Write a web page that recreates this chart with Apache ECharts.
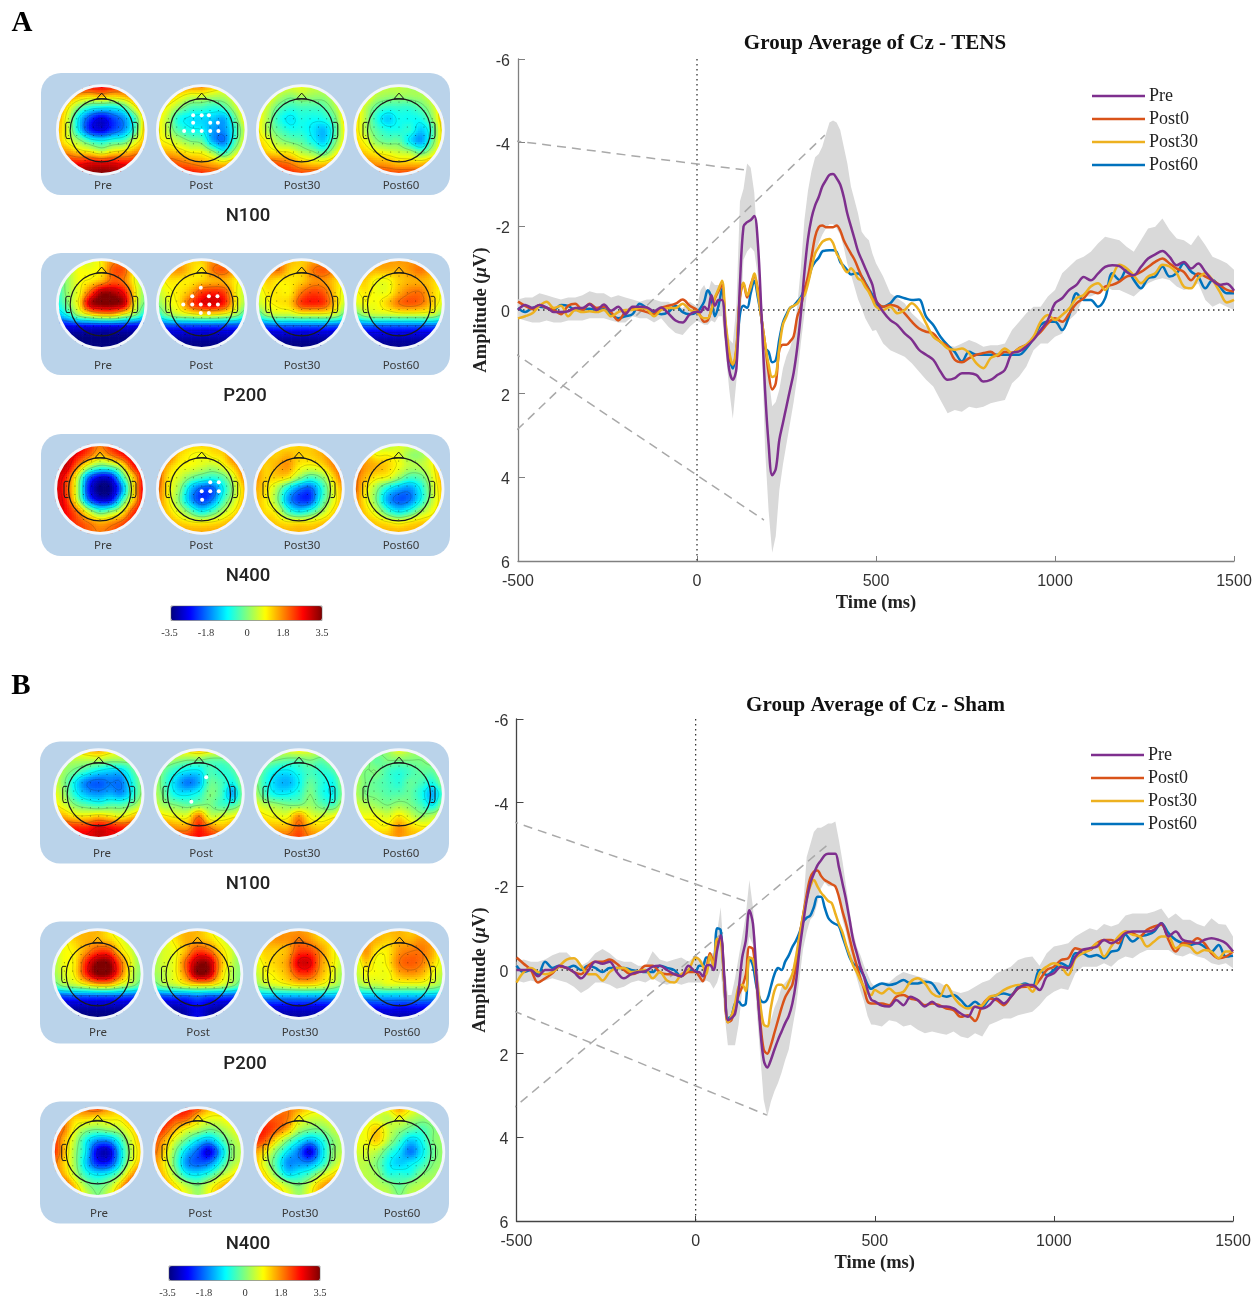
<!DOCTYPE html>
<html><head><meta charset="utf-8"><style>html,body{margin:0;padding:0;background:#fff}#c{width:1260px;height:1301px}</style>
<script src="https://cdn.jsdelivr.net/npm/echarts@6/dist/echarts.min.js"></script></head><body><div id="c"></div>
<script>
// ---------- ERP sampling times (ms) ----------
const timesBase=[-500,-480,-460,-440,-420,-400,-380,-360,-340,-320,-300,-280,-260,-240,-220,-200,-180,-160,-140,-120,-100,-80,-60,-40,-20];
const timesMid=[0,10,20,30,40,50,60,70,80,90,100,110,120,130,140,150,160,170,180,190,200,210,220,230,240,250,260,270,280,290,300,310,320,330,340,350,360,370,380,390,400,410,420,430,440,450,460,470,480,490];
const timesLate=[500,520,540,560,580,600,620,640,660,680,700,720,740,760,780,800,820,840,860,880,900,920,940,960,980,1000,1020,1040,1060,1080,1100,1120,1140,1160,1180,1200,1220,1240,1260,1280,1300,1320,1340,1360,1380,1400,1420,1440,1460,1480,1500];
const times=[...timesBase,...timesMid,...timesLate];
// ---------- Panel A: amplitude (uV) ----------
const tensPre=[0,-.12,-.05,-.12,-.06,.05,.05,.03,-.05,-.05,-.14,0,-.13,.02,-.08,.1,-.08,-.08,-.06,.03,-.06,.08,.25,.3,.1,
.04,.05,-.08,0,-.35,-.1,-.24,-.24,.6,1.43,1.67,1.4,-.63,-2,-2.1,-2.15,-2.25,-1.6,.08,1.9,3.2,3.95,3.8,3.1,2.7,2.3,1.9,1.5,.9,.1,-.9,-1.7,-2.2,-2.5,-2.7,-2.95,-3.1,-3.23,-3.25,-3.15,-3,-2.7,-2.3,-2,-1.7,-1.4,-1.2,-1,-.8,-.6,
-.24,.04,.24,.36,.56,.71,.95,1.07,1.19,1.47,1.67,1.63,1.51,1.51,1.55,1.71,1.67,1.55,1.43,1.03,.99,.87,.71,.48,.24,-.16,-.28,-.48,-.6,-.79,-.71,-.87,-1.03,-1.07,-1.05,-.91,-.83,-1.03,-1.23,-1.33,-1.41,-1.27,-1.07,-1.15,-.99,-1.11,-.91,-.71,-.6,-.63,-.46];
const tensPost0=[-.2,-.1,-.02,-.12,-.05,0,.1,-.1,-.15,0,-.15,-.05,-.08,.05,.25,.05,-.03,0,.05,.1,-.05,-.1,-.15,-.25,-.1,
0,.15,.28,.25,0,-.28,-.45,-.6,.55,1.15,1.3,.95,-.3,-.63,-.3,-.6,-.8,-.5,.2,.8,1.5,1.9,1.75,.95,.83,.83,.75,.63,.16,-.08,-.48,-.8,-1.27,-1.75,-1.98,-2.02,-1.98,-1.98,-1.98,-2.02,-1.9,-1.67,-1.5,-1.35,-1.2,-1,-.8,-.63,-.48,-.28,
-.2,-.08,-.12,-.08,.08,.28,.44,.52,.56,.76,.87,1.19,1.25,1.15,1.07,1.03,1,1.1,1,1.02,.91,.83,.67,.52,.32,.2,.28,.08,-.16,-.28,-.44,-.4,-.56,-.6,-.68,-.8,-.83,-.91,-1.03,-1.15,-1.23,-1.11,-.99,-.91,-.71,-.87,-.8,-.71,-.6,-.48,-.44];
const tensPost30=[.2,.15,.08,-.1,-.2,-.05,-.1,.15,0,.05,.03,.05,0,.15,.05,0,0,-.05,-.02,.15,0,-.05,-.05,-.15,0,
.05,.15,.2,.2,0,-.3,-.5,-.7,.3,1,1.3,.9,-.35,-.65,-.35,-.55,-.87,-.4,.2,.8,1.3,1.6,1.55,.9,.35,.15,-.05,-.1,-.15,-.28,-.35,-.63,-1,-1.35,-1.5,-1.63,-1.68,-1.7,-1.6,-1.35,-1.2,-1,-.9,-1,-.9,-.75,-.7,-.55,-.43,-.25,
-.08,0,-.08,.08,0,-.16,0,.32,.64,.76,.92,.95,.92,1.03,1.27,1.39,1.15,1.07,.92,1.03,.92,.83,.64,.28,.12,.24,.12,-.04,-.28,-.36,-.56,-.64,-.48,-.8,-1.08,-1,-.83,-.64,-.8,-.88,-1.08,-1.04,-.88,-.56,-.52,-.76,-.88,-.72,-.44,-.18,-.24];
const tensPost60=[-.05,.05,-.05,-.08,-.05,0,-.12,-.1,0,-.02,-.03,0,-.02,.1,.2,.15,.1,-.15,-.05,.05,.1,.05,-.1,.05,.1,
.05,-.05,-.2,-.47,-.3,.15,-.1,-.5,.4,1.1,1.4,1,.1,-.1,-.05,-.4,-.7,-.3,.2,.9,1,1.25,1.2,.7,.3,.1,-.05,-.1,-.2,-.3,-.5,-.7,-1,-1.15,-1.25,-1.4,-1.42,-1.43,-1.43,-1.39,-1.15,-1.05,-.95,-.85,-.87,-.87,-.8,-.65,-.5,-.35,
-.12,-.08,-.16,-.33,-.28,-.24,-.25,.16,.36,.64,.84,1,1.23,1,1.07,1.07,1.07,1.07,1.07,1.07,1.07,.92,.68,.36,.28,.28,.48,.12,-.4,-.24,-.24,-.08,-.28,-.88,-.72,-.96,-.72,-.52,-.76,-.8,-1.04,-.8,-.88,-1.12,-.92,-.8,-.52,-.72,-.56,-.4,-.4];
const tensBandUp=[-.25,-.3,-.3,-.4,-.35,-.3,-.25,-.3,-.3,-.35,-.45,-.4,-.4,-.3,-.35,-.3,-.25,-.2,-.25,-.25,-.2,-.2,-.1,-.05,-.2,
-.08,-.48,-.6,-.4,-.7,-.6,-.6,-.55,.16,.7,.8,-.1,-2.6,-2.9,-3.5,-3.4,-2.8,-1.4,-.3,.7,1.6,2.3,2.2,1.9,1.4,1.1,.9,.6,-.1,-1,-2.15,-2.85,-3.33,-3.65,-3.73,-3.9,-4.2,-4.48,-4.53,-4.48,-4.3,-3.9,-3.5,-2.95,-2.63,-2.3,-1.87,-1.75,-1.67,-1.35,
-1.12,-.8,-.4,-.28,-.16,.08,.24,.4,.56,.72,.84,.88,.8,.72,.78,.88,.84,.84,.8,.48,.28,.08,-.08,-.08,-.32,-.48,-.88,-1.04,-1.2,-1.27,-1.39,-1.59,-1.75,-1.71,-1.67,-1.51,-1.39,-1.67,-1.95,-1.99,-2.19,-1.91,-1.71,-1.67,-1.55,-1.79,-1.55,-1.27,-1.2,-1.12,-.96];
const tensBandLo=[.2,.25,.3,.3,.25,.3,.3,.25,.25,.25,.2,.2,.2,.25,.3,.3,.15,.2,.2,.3,.2,.4,.55,.6,.4,
.25,.3,.35,.35,.25,.3,.15,.15,1,1.9,2.6,1.7,.5,-1.2,-1.4,-1.5,-1.4,-.8,.5,3.3,4.8,5.8,5.4,4.3,3.7,3.2,2.7,2.2,1.6,.8,.1,-.6,-1,-1.4,-1.6,-1.8,-1.95,-2.05,-2.05,-1.95,-1.8,-1.5,-1.1,-.85,-.55,-.25,-.05,.2,.35,.5,
.48,.8,.96,1.04,1.12,1.27,1.47,1.67,1.83,2.15,2.47,2.39,2.43,2.31,2.35,2.31,2.23,2.19,2.15,1.75,1.59,1.35,.96,.8,.8,.64,.56,.24,.08,-.32,-.32,-.4,-.56,-.48,-.48,-.4,-.32,-.48,-.64,-.72,-.76,-.72,-.56,-.48,-.52,-.64,-.24,-.08,-.16,-.08,0];
// ---------- Panel B: amplitude (uV) ----------
const shamPre=[0,0,0,.15,0,0,-.1,-.05,.05,.2,.02,-.2,-.15,-.2,.05,.2,.1,.05,.03,-.08,-.1,0,.1,.15,-.1,
.04,.05,.15,-.1,-.12,0,-.48,-.83,.15,1.2,1.15,1.05,.48,-.3,-.7,-1.43,-1.1,.15,1.35,2.15,2.33,2.15,1.9,1.67,1.47,1.27,1.1,.8,.3,-.48,-1.1,-1.67,-2.07,-2.3,-2.5,-2.62,-2.74,-2.78,-2.78,-2.78,-2.46,-2.07,-1.67,-1.19,-.71,-.4,-.08,.16,.48,.71,
.75,.85,.87,.72,.84,.64,.72,.87,.76,.87,.87,.92,1.04,1.12,.88,.92,.84,.68,.8,.64,.44,.36,.36,.48,.16,.08,-.08,-.04,-.32,-.48,-.52,-.56,-.72,-.64,-.72,-.88,-.92,-.92,-.92,-.96,-1.12,-.8,-.92,-.72,-.68,-.64,-.72,-.76,-.72,-.64,-.44];
const shamPost0=[-.3,-.15,0,.3,.2,.08,-.08,-.05,.05,.1,-.1,-.2,-.2,-.25,-.15,0,.1,.05,-.1,-.1,.05,.1,.1,.15,.05,
.05,.15,.27,0,-.4,-.2,-.7,-.75,.3,1.25,1.2,.9,.6,.4,.1,-.55,-.5,.3,1.2,1.9,2,1.8,1.5,1.2,.9,.65,.5,.35,-.1,-.8,-1.3,-1.8,-2.2,-2.35,-2.38,-2.25,-2.15,-2.1,-2.05,-2,-1.75,-1.4,-1.1,-.75,-.4,-.1,.2,.45,.75,.8,
.8,.8,.84,.64,.6,.68,.72,.84,.8,.84,.92,.96,1.12,1.08,1.22,.84,.68,.72,.84,.64,.44,.4,.4,.24,0,-.08,-.24,-.28,-.52,-.48,-.48,-.64,-.72,-.72,-.64,-.92,-.88,-.8,-.96,-1.04,-1.08,-.72,-.44,-.64,-.64,-.76,-.64,-.4,-.28,-.32,-.44];
const shamPost30=[.3,.05,-.05,.05,.1,.05,-.1,-.25,-.28,-.1,.1,.1,.25,.05,-.05,-.05,.05,.03,0,.2,.05,.25,.3,.1,0,
-.3,-.25,-.1,.1,-.35,-.1,-.75,-.7,.3,1.25,1.1,.8,.4,.35,.5,-.3,-.25,.2,.8,1.3,1.35,.9,.5,.35,.35,.45,.3,.1,-.3,-.8,-1.3,-1.7,-2,-2.15,-2,-1.85,-1.75,-1.65,-1.6,-1.35,-1.1,-.9,-.6,-.35,-.1,.05,.25,.4,.55,.6,
.48,.56,.44,.56,.52,.28,.2,.32,.56,.64,.36,.64,.84,.92,.88,.84,.64,.6,.48,.4,.36,.36,.52,.08,-.08,-.16,-.08,.12,-.28,-.4,-.48,-.64,-.32,-.56,-.8,-.92,-.84,-.8,-.56,-.68,-.8,-.8,-.52,-.6,-.56,-.4,-.48,-.44,-.28,-.44,-.44];
const shamPost60=[-.1,.05,0,.1,-.2,-.05,-.1,-.05,-.1,0,-.1,-.05,.05,-.05,-.05,-.05,0,.03,.05,.05,-.1,-.05,0,.15,0,
.03,-.1,-.1,-.3,-.3,-.1,-1,-.95,.3,1.15,1.1,.8,.75,.85,.8,-.3,-.1,.4,.7,.77,.7,.4,.1,-.05,0,-.2,-.35,-.55,-.7,-.9,-1.15,-1.25,-1.3,-1.5,-1.75,-1.75,-1.5,-1.25,-1.15,-1.1,-1.05,-.8,-.55,-.3,-.15,-.1,0,.15,.35,.45,
.4,.32,.36,.32,.24,.32,.32,.28,.32,.56,.64,.6,.72,.88,.76,.88,.68,.6,.56,.6,.4,.32,.4,0,.12,0,-.16,-.08,-.4,-.4,-.32,-.36,-.28,-.44,-.48,-.84,-.68,-.8,-.84,-.92,-1.12,-.88,-.72,-.64,-.6,-.64,-.56,-.44,-.6,-.32,-.34];
const shamBandUp=[-.2,-.25,-.2,-.2,-.25,-.35,-.42,-.42,-.25,-.1,-.2,-.4,-.5,-.4,-.25,-.2,-.2,-.1,-.1,-.45,-.25,-.2,-.25,-.3,-.2,
-.35,-.3,-.2,-.25,-.4,-.4,-.9,-1.5,-.2,.6,.6,.2,-.3,-.8,-1.3,-2.15,-1.5,-.4,.5,1.3,1.4,1.2,.9,.7,.4,.3,.2,.05,-.5,-1,-1.5,-2.7,-3,-3.3,-3.4,-3.4,-3.45,-3.5,-3.5,-3.55,-3.1,-2.6,-2,-1.4,-.9,-.55,-.35,-.1,.1,.3,
.4,.3,.3,.15,.05,.1,.15,.2,.28,.3,.4,.5,.55,.5,.4,.3,.24,.08,0,-.08,-.24,-.3,-.32,-.1,-.4,-.56,-.6,-.64,-.8,-.9,-1,-.95,-1.1,-1.04,-1.1,-1.3,-1.35,-1.35,-1.35,-1.4,-1.47,-1.23,-1.35,-1.2,-1.2,-1.1,-1.04,-1.24,-1.1,-1.08,-.8];
const shamBandLo=[.25,.3,.25,.3,.25,.2,.25,.3,.4,.55,.45,.3,.3,.35,.45,.4,.3,.25,.3,.2,.3,.35,.3,.35,.3,
.3,.3,.3,.25,.3,.45,.3,0,1,1.8,1.8,1.8,1.3,.5,-.2,-.8,-.6,.9,2,3.1,3.5,3.15,2.9,2.7,2.45,2.15,1.9,1.4,.9,.2,-.5,-.9,-1.2,-1.3,-1.6,-1.95,-2.1,-2,-2,-2,-1.7,-1.2,-.9,-.5,-.1,.2,.5,.75,1.1,1.3,
1.31,1.35,1.2,1.24,1.35,1.31,1.43,1.51,1.47,1.51,1.55,1.47,1.59,1.63,1.51,1.59,1.31,1.24,1.16,1.16,1.08,1.04,1,.84,.64,.52,.44,.48,.08,-.08,-.08,-.08,-.16,-.08,-.24,-.32,-.28,-.4,-.48,-.48,-.48,-.48,-.36,-.32,-.4,-.32,-.28,-.16,-.12,-.16,-.04];
// ---------- Callout connectors, in axis units [ms, uV] ----------
const tensCallouts=[[[-682,-4.23],[131,-3.35]],[[-690,0],[187,5.02]],[[-684,4.35],[357,-4.18]]];
const shamCallouts=[[[-678,-4.04],[138,-1.65]],[[-664,.43],[199,3.47]],[[-681,4.54],[375,-3.04]]];
// ---------- Labels ----------
const seriesNames=['Pre','Post0','Post30','Post60'];
const mapLabels=['Pre','Post','Post30','Post60'];
const componentNames=['N100','P200','N400'];
const colorbarTicks=['-3.5','-1.8','0','1.8','3.5'];
// ---------- Scalp maps: 9x9 readings, tenths of uV, front at top ----------
const A_N100_Pre=[22,24,26,28,28,26,22,22,20,
18,18,14,12,14,12,14,18,20,
18,10,0,-6,-8,-8,-4,8,18,
16,6,-10,-22,-28,-22,-16,-4,14,
14,6,-10,-24,-28,-22,-16,-4,14,
14,8,2,-5,-8,-5,-3,6,14,
18,16,12,10,6,10,12,16,20,
26,26,26,28,28,28,26,26,26,
32,32,33,34,35,34,33,32,32];
const A_N100_Post=[18,18,18,18,18,14,10,10,10,
14,14,10,6,6,4,4,8,12,
12,8,2,-3,-4,-6,-4,4,12,
10,4,-7,-10,-11,-12,-14,-2,10,
10,4,-4,-8,-9,-15,-16,-6,6,
10,8,4,0,-2,-14,-18,-4,8,
14,14,12,9,8,2,-6,4,12,
20,22,20,18,16,14,12,16,20,
26,26,26,26,24,22,22,24,26];
const A_N100_Post30=[10,10,8,8,8,6,6,8,10,
10,10,4,1,3,2,2,6,12,
10,5,-2,-5,-4,-4,-3,3,12,
10,3,-6,-10,-7,-8,-7,-1,12,
10,3,-3,-7,-7,-10,-13,-4,10,
12,8,2,-1,-3,-8,-12,-1,10,
16,12,10,9,4,1,-3,6,14,
22,22,20,18,14,12,12,16,20,
28,28,26,24,22,22,22,22,22];
const A_N100_Post60=[12,10,6,5,5,3,3,8,12,
12,10,4,2,2,2,3,7,14,
12,5,-2,-5,-5,-5,-2,4,14,
12,4,-6,-12,-8,-8,-7,1,14,
12,4,-3,-7,-7,-6,-12,-4,12,
12,8,1,-2,-2,-10,-15,-2,12,
14,12,9,7,5,3,-2,5,14,
18,18,16,15,13,13,13,16,18,
24,24,24,22,22,22,22,22,22];
const A_P200_Pre=[0,4,6,6,10,16,16,6,2,
-2,3,8,8,10,20,20,8,2,
-4,2,8,10,14,20,18,8,0,
-6,2,8,20,32,32,26,10,0,
-8,0,10,30,35,35,30,8,-2,
-14,-8,2,8,12,12,6,0,-10,
-28,-27,-26,-26,-26,-26,-26,-27,-28,
-35,-35,-35,-35,-35,-35,-35,-35,-35,
-35,-35,-35,-35,-35,-35,-35,-35,-35];
const A_P200_Post=[8,12,14,12,12,16,14,10,6,
8,14,16,12,10,18,20,14,6,
6,10,10,10,12,14,14,10,6,
4,8,10,14,22,24,22,10,4,
0,6,10,20,26,28,24,10,2,
-8,0,4,6,8,8,6,2,-6,
-23,-22,-22,-22,-22,-22,-22,-22,-23,
-32,-32,-32,-32,-32,-32,-32,-32,-32,
-35,-35,-35,-35,-35,-35,-35,-35,-35];
const A_P200_Post30=[10,14,16,14,12,14,14,12,8,
8,16,18,12,12,18,20,16,8,
8,12,10,10,12,16,16,12,8,
6,10,10,10,18,22,20,12,6,
4,8,10,12,22,24,22,12,4,
-6,2,4,4,6,6,6,4,-4,
-22,-21,-20,-20,-20,-20,-20,-21,-22,
-32,-32,-32,-32,-32,-32,-32,-32,-32,
-35,-35,-35,-35,-35,-35,-35,-35,-35];
const A_P200_Post60=[12,14,16,16,16,16,16,14,10,
10,14,14,14,14,16,18,14,10,
10,12,8,8,12,14,14,12,8,
8,10,8,8,14,18,18,12,8,
6,8,8,12,18,20,18,12,6,
-4,2,4,4,5,5,5,4,-2,
-21,-20,-20,-20,-20,-20,-20,-20,-21,
-31,-31,-31,-31,-31,-31,-31,-31,-31,
-34,-34,-34,-34,-34,-34,-34,-34,-34];
const A_N400_Pre=[30,30,28,24,18,24,28,30,32,
30,30,26,20,13,18,24,30,32,
30,30,18,5,-2,0,8,24,30,
30,24,6,-18,-28,-26,-6,12,28,
30,22,4,-24,-35,-33,-16,10,28,
30,24,6,-18,-28,-26,-6,12,28,
28,26,18,5,-4,0,8,22,28,
26,26,22,18,14,16,20,26,28,
26,26,24,20,18,20,24,26,28];
const A_N400_Post=[16,16,14,12,12,12,14,16,18,
20,20,12,9,8,10,12,20,22,
22,14,9,8,6,4,8,14,22,
22,11,6,0,-4,-6,-2,8,18,
20,10,2,-12,-20,-20,-8,4,14,
18,10,0,-14,-22,-17,-4,6,14,
16,12,6,-2,-9,-4,4,10,16,
16,15,12,10,9,10,12,15,16,
16,16,16,15,15,15,16,16,16];
const A_N400_Post30=[14,14,12,10,12,12,14,16,18,
16,14,12,14,12,12,14,18,20,
18,12,14,16,10,8,10,16,22,
18,12,12,10,2,-4,0,10,20,
15,11,4,-8,-17,-20,-8,6,15,
14,10,2,-14,-22,-22,-6,6,14,
14,11,8,-4,-10,-6,2,10,14,
15,14,12,10,10,10,12,14,15,
15,15,15,14,14,14,15,15,15];
const A_N400_Post60=[8,6,5,3,6,6,4,8,12,
14,14,9,9,7,2,2,8,14,
22,16,14,12,8,4,4,8,16,
20,14,10,8,2,-4,-2,6,15,
20,11,2,-8,-14,-16,-8,4,13,
18,10,0,-14,-20,-18,-8,4,12,
18,12,6,-4,-10,-6,2,8,12,
16,14,12,10,8,10,12,12,12,
14,14,14,14,14,14,14,14,12];
const B_N100_Pre=[6,8,10,14,16,12,8,4,4,
4,4,4,4,4,2,2,2,4,
6,2,-2,-6,-10,-12,-12,-4,2,
6,0,-10,-18,-20,-18,-18,-8,2,
8,2,-8,-14,-16,-14,-16,-8,2,
10,6,0,-3,-5,-3,-3,0,6,
16,14,10,10,12,10,8,12,16,
24,24,24,24,28,26,24,24,24,
28,28,28,28,30,28,28,28,28];
const B_N100_Post=[6,8,10,12,14,12,10,6,6,
4,4,2,0,0,-2,-2,0,4,
4,-2,-7,-10,-10,-4,-6,-4,2,
4,-4,-12,-18,-14,-2,-4,-8,2,
4,-2,-9,-10,-7,0,-4,-14,0,
6,2,0,-2,0,0,-4,-4,2,
12,10,8,8,18,6,6,8,12,
18,18,16,16,24,18,14,16,18,
24,24,24,24,26,24,22,22,22];
const B_N100_Post30=[6,6,6,8,10,8,6,4,4,
2,2,0,-2,-2,0,-2,2,4,
2,-4,-9,-10,-7,-4,-6,-4,2,
2,-6,-12,-14,-9,-2,-6,-8,2,
4,-4,-9,-9,-6,0,-6,-9,0,
8,4,2,0,0,2,-2,-4,4,
12,10,8,8,16,8,6,8,12,
14,14,14,14,20,14,12,14,16,
20,20,20,20,22,18,16,16,16];
const B_N100_Post60=[4,4,2,2,8,4,2,2,4,
4,2,-2,0,0,0,0,2,4,
4,0,0,-4,-6,-4,-2,-2,4,
4,0,-2,-4,-6,-2,-4,-7,2,
4,0,-1,-3,-3,-2,-7,-14,-4,
6,4,2,0,2,0,-4,-9,2,
8,8,8,6,10,6,2,4,8,
12,12,10,10,16,12,10,10,12,
14,14,14,14,16,14,14,14,14];
const B_P200_Pre=[6,10,14,14,14,10,6,4,2,
4,8,12,14,14,12,8,4,0,
4,8,10,16,22,22,12,6,0,
2,8,10,24,34,34,20,8,0,
2,6,10,24,35,34,20,6,0,
-4,2,4,8,12,12,6,2,-4,
-22,-21,-20,-20,-20,-20,-20,-21,-22,
-33,-32,-32,-32,-32,-32,-32,-32,-33,
-35,-35,-35,-35,-35,-35,-35,-35,-35];
const B_P200_Post=[4,8,12,14,14,10,6,4,2,
2,6,10,14,14,12,8,4,0,
2,6,8,14,22,20,12,6,0,
2,6,8,20,32,32,16,6,0,
2,4,8,18,34,32,14,4,0,
-4,2,4,8,10,10,6,2,-4,
-22,-21,-20,-20,-18,-20,-20,-21,-22,
-32,-32,-32,-30,-27,-30,-32,-32,-32,
-35,-35,-34,-32,-28,-32,-34,-35,-35];
const B_P200_Post30=[8,14,16,16,16,14,10,8,6,
8,14,16,16,18,16,12,10,6,
8,12,12,14,22,22,16,10,6,
6,10,12,16,28,28,16,10,4,
4,8,10,14,22,22,14,8,2,
0,4,6,8,10,10,8,4,0,
-15,-14,-14,-14,-14,-14,-14,-14,-15,
-28,-28,-28,-28,-28,-28,-28,-28,-28,
-33,-33,-33,-33,-33,-33,-33,-33,-33];
const B_P200_Post60=[6,10,12,14,14,12,12,8,6,
6,14,14,12,14,14,16,14,8,
6,16,10,10,16,18,18,14,6,
4,12,8,10,18,20,18,12,6,
4,8,8,8,14,16,14,8,4,
0,4,4,6,6,6,6,4,0,
-14,-14,-13,-13,-13,-13,-13,-14,-14,
-26,-26,-26,-25,-26,-26,-26,-26,-26,
-32,-32,-32,-32,-32,-32,-32,-32,-32];
const B_N400_Pre=[18,18,18,20,22,16,12,10,10,
20,18,12,12,10,10,10,14,14,
22,18,8,2,0,2,4,10,14,
24,14,4,-8,-16,-16,-6,6,14,
24,14,2,-10,-28,-30,-12,4,12,
20,12,2,-12,-24,-24,-10,6,14,
20,14,4,-6,-10,-8,0,14,22,
22,22,12,2,-2,2,12,24,26,
22,22,16,6,0,6,16,24,24];
const B_N400_Post=[20,24,26,26,22,14,12,10,8,
26,26,22,20,12,8,8,10,10,
26,22,14,8,4,0,2,6,9,
22,15,6,-2,-10,-14,-6,2,6,
20,12,0,-12,-20,-28,-14,0,4,
17,10,-2,-16,-20,-18,-8,2,6,
16,12,2,-8,-10,-6,2,8,14,
16,16,10,4,0,6,12,16,16,
16,16,12,8,2,8,14,16,16];
const B_N400_Post30=[12,16,16,18,16,12,10,8,8,
18,20,20,18,10,6,6,8,8,
24,24,20,14,4,0,0,4,6,
24,20,10,0,-8,-14,-8,0,4,
16,10,0,-10,-18,-28,-12,0,4,
14,6,-4,-16,-16,-16,-8,2,8,
14,10,0,-10,-8,-4,4,10,14,
14,14,10,4,0,6,14,18,18,
14,14,12,8,2,8,14,18,16];
const B_N400_Post60=[6,6,8,10,16,10,6,4,4,
4,6,6,4,8,4,2,2,2,
6,8,12,6,2,-2,-4,0,2,
8,8,12,4,-4,-12,-8,0,2,
6,6,4,-4,-10,-18,-10,-2,2,
4,4,0,-8,-12,-10,-6,0,2,
4,4,2,-6,-6,-6,0,2,4,
6,4,4,2,-2,2,4,4,6,
6,6,4,4,0,4,4,6,6];
// significant electrodes (white dots), head-normalised
const sigA_N100_Post=[[-.19,-.33],[0,-.33],[.16,-.33],[-.19,-.16],[.19,-.16],[.36,-.16],[-.39,.02],[-.19,.02],[0,.02],[.19,.02],[.37,.02]];
const sigA_P200_Post=[[-.02,-.36],[-.21,-.17],[.16,-.17],[.35,-.17],[-.41,.01],[-.21,.01],[-.02,.01],[.17,.01],[.36,.01],[-.02,.2],[.16,.2]];
const sigA_N400_Post=[[.19,-.15],[.38,-.15],[0,.05],[.19,.05],[.38,.05],[.01,.24]];
const sigB_N100_Post=[[.16,-.37],[-.17,.17]];

// ---------- Layout ----------
const COL={Pre:'#7E2F8E',Post0:'#D95319',Post30:'#EDB120',Post60:'#0072BD'};
const JET=['#00007f','#0000ff','#007fff','#00ffff','#7fff7f','#ffff00','#ff7f00','#ff0000','#7f0000'];
const SERIF='"Liberation Serif"',SANS='"Liberation Sans"',UI='"Noto Sans"',DIN='Roboto';
const PANEL='#BAD3EA';
const layout=[
 {panel:[41,73,409,122],cy:130,xs:[101.7,201.7,301.7,399],lab:[103,201,302,401],laby:186,nameX:248,nameY:216,maps:[A_N100_Pre,A_N100_Post,A_N100_Post30,A_N100_Post60],sig:{1:sigA_N100_Post}},
 {panel:[41,253,409,122],cy:304,xs:[101.7,201.7,301.7,399],lab:[103,201,302,401],laby:366,nameX:245,nameY:396,maps:[A_P200_Pre,A_P200_Post,A_P200_Post30,A_P200_Post60],sig:{1:sigA_P200_Post}},
 {panel:[41,434,409,122],cy:489,xs:[100,201.7,299,398.7],lab:[103,201,302,401],laby:546,nameX:248,nameY:576,maps:[A_N400_Pre,A_N400_Post,A_N400_Post30,A_N400_Post60],sig:{1:sigA_N400_Post}},
 {panel:[40,741.5,409,122],cy:794,xs:[98.7,199,299,399],lab:[102,201,302,401],laby:854,nameX:248,nameY:884,maps:[B_N100_Pre,B_N100_Post,B_N100_Post30,B_N100_Post60],sig:{1:sigB_N100_Post}},
 {panel:[40,921.5,409,122],cy:974,xs:[97.7,197.5,299,399.5],lab:[98,198,300,402],laby:1033,nameX:245,nameY:1064,maps:[B_P200_Pre,B_P200_Post,B_P200_Post30,B_P200_Post60],sig:{}},
 {panel:[40,1101.5,409,122],cy:1152,xs:[97.7,198,299,399.5],lab:[99,200,300,402],laby:1214,nameX:248,nameY:1244,maps:[B_N400_Pre,B_N400_Post,B_N400_Post30,B_N400_Post60],sig:{}}
];
[tensPre,tensPost0,tensPost30,tensPost60,tensBandUp,tensBandLo,shamPre,shamPost0,shamPost30,shamPost60,shamBandUp,shamBandLo].forEach((a,i)=>{if(a.length!==times.length)throw new Error('length mismatch '+i+' '+a.length+' vs '+times.length)});

const grids=[],xAxes=[],yAxes=[],series=[],graphic=[];
function chartAxes(g,axisCol){
 grids.push(g);const idx=grids.length-1;
 xAxes.push({gridIndex:idx,type:'value',min:-500,max:1500,interval:500,name:'Time (ms)',nameLocation:'middle',nameGap:33,nameMoveOverlap:false,
  nameTextStyle:{fontFamily:SERIF,fontWeight:'bold',fontSize:18.5,color:'#222'},
  axisLine:{onZero:false,lineStyle:{color:axisCol,width:1.3}},axisTick:{inside:true,length:5,lineStyle:{color:axisCol}},
  axisLabel:{fontFamily:SANS,fontSize:16,color:'#333',margin:13,showMinLabel:true,showMaxLabel:true,formatter:v=>String(v)},splitLine:{show:false}});
 yAxes.push({gridIndex:idx,type:'value',inverse:true,min:-6,max:6,interval:2,name:'Amplitude ({mu|\u00b5}V)',nameLocation:'middle',nameGap:27,nameRotate:90,nameMoveOverlap:false,
  nameTextStyle:{fontFamily:SERIF,fontWeight:'bold',fontSize:18.5,color:'#222',rich:{mu:{fontFamily:SERIF,fontStyle:'italic',fontWeight:'bold',fontSize:18.5,color:'#222'}}},
  axisLine:{onZero:false,lineStyle:{color:axisCol,width:1.3}},axisTick:{inside:true,length:7,lineStyle:{color:axisCol}},
  axisLabel:{margin:8,formatter:v=>'{t|'+v+'}',rich:{t:{fontFamily:SANS,fontSize:16,color:'#333',padding:[5,0,0,0]}}},splitLine:{show:false}});
 return idx;
}
function erp(idx,vals,up,lo,callouts){
 const opts={xAxisIndex:idx,yAxisIndex:idx,silent:true,animation:false};
 series.push({...opts,type:'custom',name:'band',z:1,clip:false,data:[[0,0]],encode:{x:0,y:1},renderItem(p,api){
   const pts=[];times.forEach((t,i)=>pts.push(api.coord([t,up[i]])));
   for(let i=times.length-1;i>=0;i--)pts.push(api.coord([times[i],lo[i]]));
   return {type:'polygon',shape:{points:pts},style:{fill:'#d9d9d9'}};}});
 const dotted=(d,c)=>series.push({...opts,type:'line',name:'ref',z:2,symbol:'none',data:d,lineStyle:{color:c,width:1.3,type:[1.5,3.5]},legendHoverLink:false});
 dotted([[-500,0],[1500,0]],'#333');dotted([[0,-6],[0,6]],'#333');
 callouts.forEach(c=>series.push({...opts,type:'line',name:'callout',z:3,clip:false,symbol:'none',data:c,lineStyle:{color:'#a9a9a9',width:1.5,type:[9,6]}}));
 const order=[['Post60',3.2],['Post30',3.6],['Post0',3.4],['Pre',4]];
 seriesNames.forEach((n,k)=>{const z=order.find(o=>o[0]===n)[1];
  series.push({...opts,type:'line',name:n,z,symbol:'none',smooth:.35,data:times.map((t,i)=>[t,vals[k][i]]),lineStyle:{color:COL[n],width:2.5},itemStyle:{color:COL[n]}});});
}
const idxA=chartAxes({left:518,top:59,width:716,height:502},'#808080');
const idxB=chartAxes({left:516.5,top:719,width:716.5,height:502},'#444');
erp(idxA,[tensPre,tensPost0,tensPost30,tensPost60],tensBandUp,tensBandLo,tensCallouts);
erp(idxB,[shamPre,shamPost0,shamPost30,shamPost60],shamBandUp,shamBandLo,shamCallouts);

// scalp maps: each reading paints its own square, shaded from the surrounding readings
const R=45,LEVELS=[-27,-18,-9,0,9,18,27],SUB=5;
const electrodes=[];for(let y=-.62;y<.8;y+=.185){for(let x=-.74;x<.76;x+=.185){if(x*x+y*y<.62)electrodes.push([x,y]);}}
const cr=(p0,p1,p2,p3,t)=>p1+.5*t*(p2-p0+t*(2*p0-5*p1+4*p2-p3+t*(3*(p1-p2)+p3-p0)));
function field(m,x,y){ // x,y in head units -> tenths of uV
 const gx=(x+1)/.25,gy=(y+1)/.25,ix=Math.max(0,Math.min(7,Math.floor(gx))),iy=Math.max(0,Math.min(7,Math.floor(gy))),tx=gx-ix,ty=gy-iy;
 const at=(r,c)=>m[Math.max(0,Math.min(8,r))*9+Math.max(0,Math.min(8,c))];
 const row=r=>cr(at(r,ix-1),at(r,ix),at(r,ix+1),at(r,ix+2),tx);
 return cr(row(iy-1),row(iy),row(iy+1),row(iy+2),ty);
}
const colorCache={};
function jetColor(v){const k=Math.round(Math.max(-35,Math.min(35,v))*4);return colorCache[k]||(colorCache[k]=echarts.color.lerp((k/4+35)/70,JET));}
function segments(m){const out=[],N=32,h=2/N,F=[];
 for(let r=0;r<=N;r++){F.push([]);for(let c=0;c<=N;c++)F[r].push(field(m,-1+c*h,-1+r*h));}
 for(let r=0;r<N;r++)for(let c=0;c<N;c++)for(const L of LEVELS){
  const a=F[r][c],b=F[r][c+1],d=F[r+1][c],e=F[r+1][c+1],pts=[],P=i=>-1+i*h,t=(u,v)=>(L-u)/(v-u);
  if((a<L)!==(b<L))pts.push([P(c+t(a,b)),P(r)]);
  if((b<L)!==(e<L))pts.push([P(c+1),P(r+t(b,e))]);
  if((e<L)!==(d<L))pts.push([P(c+t(d,e)),P(r+1)]);
  if((d<L)!==(a<L))pts.push([P(c),P(r+t(a,d))]);
  if(pts.length>=2)out.push([pts[0],pts[1]]);
  if(pts.length===4)out.push([pts[2],pts[3]]);
 }return out;}
const splatA=[],splatB=[];
layout.forEach((row,ri)=>{
 graphic.push({type:'rect',z:-1,silent:true,shape:{x:row.panel[0],y:row.panel[1],width:row.panel[2],height:row.panel[3],r:20},style:{fill:PANEL}});
 mapLabels.forEach((lab,mi)=>{
  const cx=row.xs[mi],cy=row.cy,m=row.maps[mi],sig=row.sig[mi]||[];
  grids.push({left:cx-R,top:cy-R,width:2*R,height:2*R,show:false});
  const gi=grids.length-1;
  xAxes.push({gridIndex:gi,type:'value',min:-1,max:1,show:false});
  yAxes.push({gridIndex:gi,type:'value',min:-1,max:1,inverse:true,show:false});
  const cells=[];for(let r=0;r<9;r++)for(let c=0;c<9;c++)cells.push([-1+c*.25,-1+r*.25,m[r*9+c]/10]);
  series.push({type:'custom',name:'map',xAxisIndex:gi,yAxisIndex:gi,z:2,silent:true,animation:false,progressive:0,clip:false,data:cells,encode:{x:0,y:1},dimensions:['x','y','uV'],
   renderItem(p,api){const x0=api.value(0),y0=api.value(1),h=.25/SUB,kids=[];
    for(let a=0;a<SUB;a++)for(let b=0;b<SUB;b++){
     const sx=x0-.125+(a+.5)*h,sy=y0-.125+(b+.5)*h;
     if(sx*sx+sy*sy>.985*.985)continue;
     const q=api.coord([sx-h/2,sy-h/2]),s=api.size([h,h]);
     kids.push({type:'rect',shape:{x:q[0]-.3,y:q[1]-.3,width:s[0]+.6,height:s[1]+.6},style:{fill:jetColor(field(m,sx,sy))}});
    }
    return {type:'group',children:kids};}});
  (ri<3?splatA:splatB).push(series.length-1);
  const segs=segments(m);
  series.push({type:'custom',name:'head',xAxisIndex:gi,yAxisIndex:gi,z:3,silent:true,animation:false,clip:false,data:[[0,0]],encode:{x:0,y:1},
   renderItem(p,api){const o=api.coord([0,0]),u=api.size([1,1])[0],C=a=>api.coord(a),ch=[];
    const lines=segs.map(s=>{const a=C(s[0]),b=C(s[1]);return {type:'line',shape:{x1:a[0],y1:a[1],x2:b[0],y2:b[1]},style:{stroke:'rgba(20,40,30,.33)',lineWidth:.6}};});
    ch.push({type:'group',children:lines,clipPath:{type:'circle',shape:{cx:o[0],cy:o[1],r:.95*u}}});
    ch.push({type:'circle',shape:{cx:o[0],cy:o[1],r:.985*u},style:{fill:'none',stroke:'#f2f6fb',lineWidth:2.8}});
    electrodes.forEach(e=>{const a=C(e);ch.push({type:'circle',shape:{cx:a[0],cy:a[1],r:.5},style:{fill:'rgba(0,0,0,.6)'}});});
    ch.push({type:'polygon',shape:{points:[C([-.11,-.695]),C([0,-.82]),C([.11,-.695])]},style:{fill:'none',stroke:'#1a1a1a',lineWidth:1}});
    [-1,1].forEach(s=>ch.push({type:'polyline',shape:{points:[C([s*.7,-.17]),C([s*.78,-.17]),C([s*.8,-.13]),C([s*.8,.13]),C([s*.78,.19]),C([s*.7,.19])]},style:{fill:'none',stroke:'#1a1a1a',lineWidth:1}}));
    ch.push({type:'circle',shape:{cx:o[0],cy:o[1]+.01*u,r:.7*u},style:{fill:'none',stroke:'#1a1a1a',lineWidth:1.2}});
    sig.forEach(e=>{const a=C(e);ch.push({type:'circle',shape:{cx:a[0],cy:a[1],r:2},style:{fill:'#fff'}});});
    return {type:'group',children:ch};}});
  graphic.push({type:'text',z:5,silent:true,x:row.lab[mi],y:row.laby,style:{text:lab,font:'11.5px '+UI,fill:'#3a3a3a',align:'center',verticalAlign:'middle'}});
 });
 graphic.push({type:'text',z:5,silent:true,x:row.nameX,y:row.nameY,style:{text:componentNames[ri%3],font:'500 18.5px '+DIN,fill:'#222',align:'center',verticalAlign:'middle'}});
});
function vm(left,top,idx){return {type:'continuous',min:-3.5,max:3.5,orient:'horizontal',left,top,padding:0,itemWidth:14.5,itemHeight:151,calculable:false,hoverLink:false,seriesIndex:idx,dimension:2,inRange:{color:JET},text:null,showLabel:false};}
const barA=[171,606],barB=[169,1266];
[barA,barB].forEach(b=>{
 graphic.push({type:'rect',z:6,silent:true,shape:{x:b[0],y:b[1],width:151,height:14.5},style:{fill:'none',stroke:'#555',lineWidth:.5}});
 const ox=[-1.5,35,76,112,151];
 colorbarTicks.forEach((t,i)=>graphic.push({type:'text',z:6,silent:true,x:b[0]+ox[i],y:b[1]+27.5,style:{text:t,font:'10.5px '+SERIF,fill:'#333',align:'center',verticalAlign:'middle'}}));
});
[['A',22,24],['B',21,687]].forEach(a=>graphic.push({type:'text',z:6,silent:true,x:a[1],y:a[2],style:{text:a[0],font:'bold 29px '+SERIF,fill:'#000',align:'center',verticalAlign:'middle'}}));

function leg(left,top){return {orient:'vertical',left,top,padding:0,itemWidth:53,itemHeight:2.6,itemGap:5,icon:'rect',data:seriesNames,selectedMode:false,textStyle:{fontFamily:SERIF,fontSize:18,color:'#222',padding:[0,0,0,-1],lineHeight:18}};}
const option={animation:false,backgroundColor:'#fff',
 title:[
  {text:'Group Average of Cz - TENS',left:875,top:44,textAlign:'center',textVerticalAlign:'middle',padding:0,textStyle:{fontFamily:SERIF,fontWeight:'bold',fontSize:21,color:'#111'}},
  {text:'Group Average of Cz - Sham',left:875.5,top:706,textAlign:'center',textVerticalAlign:'middle',padding:0,textStyle:{fontFamily:SERIF,fontWeight:'bold',fontSize:21,color:'#111'}}],
 legend:[leg(1092,87),leg(1091,746)],
 grid:grids,xAxis:xAxes,yAxis:yAxes,
 visualMap:[vm(barA[0],barA[1],splatA),vm(barB[0],barB[1],splatB)],
 graphic:{elements:graphic},series};
const chart=echarts.init(document.getElementById('c'),null,{renderer:'canvas',width:1260,height:1301});
chart.setOption(option);
</script></body></html>
